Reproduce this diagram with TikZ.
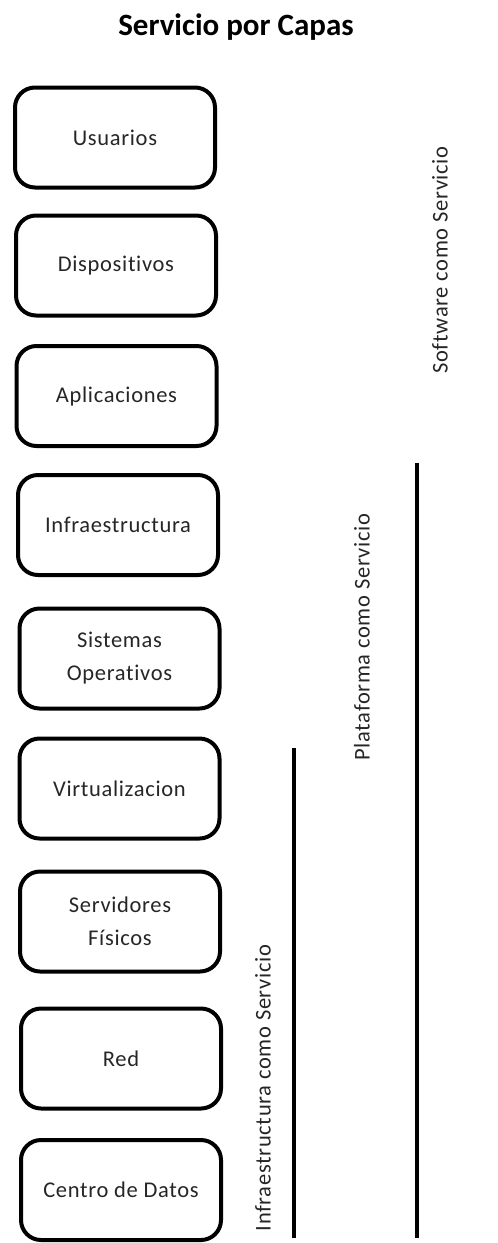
\documentclass[tikz,border=0pt]{standalone}
\usepackage{fontspec}
\setmainfont{Carlito}[Ligatures=NoCommon]
\newfontfamily\bodyfont{Carlito}[Ligatures=NoCommon,LetterSpace=3]
\begin{document}
\begin{tikzpicture}[x=1pt,y=-1pt,
  layer/.style={draw=black, line width=4pt, rounded corners=20pt,
    minimum width=200pt, minimum height=100pt, inner sep=0pt, align=center,
    text=black!85, font=\bodyfont\fontsize{22.5}{33}\selectfont},
  vlabel/.style={rotate=90, inner sep=0pt, text=black!85,
    font=\bodyfont\fontsize{22.5}{27}\selectfont},
  bar/.style={line width=4pt}]
\useasboundingbox (0,0) rectangle (498,1243);
\node[font=\bfseries\fontsize{31}{37}\selectfont, anchor=base] (title) at (236,35) {Servicio por Capas};
\node[layer] (usu) at (115,137.5) {Usuarios};
\node[layer] (dis) at (116,265.5) {Dispositivos};
\node[layer] (apl) at (116.5,396) {Aplicaciones};
\node[layer] (inf) at (118,525) {Infraestructura};
\node[layer] (sis) at (119.5,658.5) {Sistemas\\Operativos};
\node[layer] (vir) at (119.5,788.5) {Virtualizacion};
\node[layer] (ser) at (120,921.5) {Servidores\\Físicos};
\node[layer] (red) at (121,1058.5) {Red};
\node[layer] (cen) at (121,1190) {Centro de Datos};
\node[vlabel] (saas) at (440,260) {Software como Servicio};
\node[vlabel] (paas) at (362,637) {Plataforma como Servicio};
\node[vlabel] (iaas) at (263,1088) {Infraestructura como Servicio};
\coordinate (s1) at (417,463);
\coordinate (s2) at (417,1238);
\coordinate (i1) at (294,748);
\coordinate (i2) at (294,1238);
\draw[bar] (s1) -- (s2);
\draw[bar] (i1) -- (i2);
\end{tikzpicture}
\end{document}
